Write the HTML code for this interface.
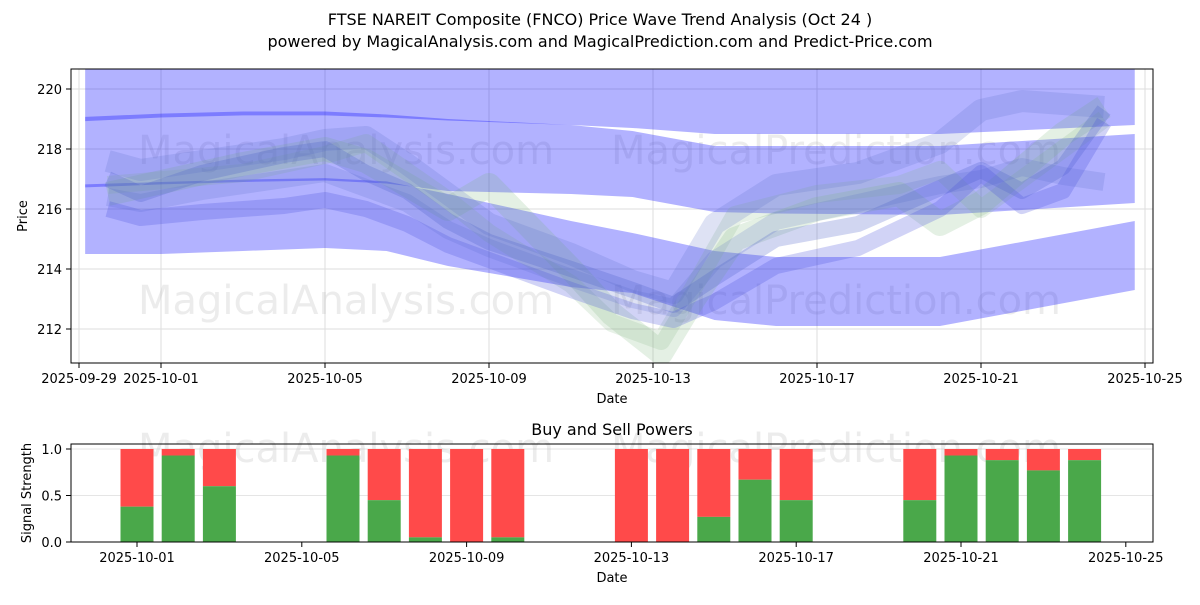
<!DOCTYPE html>
<html><head><meta charset="utf-8"><style>
body{margin:0;background:#fff;font-family:"Liberation Sans","DejaVu Sans",sans-serif}
svg text{font-family:"DejaVu Sans","Liberation Sans",sans-serif;fill:#000}
</style></head><body>
<svg id="c" width="1200" height="600" xmlns="http://www.w3.org/2000/svg">
<defs><clipPath id="cp"><rect x="71" y="69" width="1082" height="294"/></clipPath></defs>
<text x="600" y="25" text-anchor="middle" font-size="16">FTSE NAREIT Composite (FNCO) Price Wave Trend Analysis (Oct 24 )</text>
<text x="600" y="47" text-anchor="middle" font-size="16">powered by MagicalAnalysis.com and MagicalPrediction.com and Predict-Price.com</text>
<g id="topPlot" clip-path="url(#cp)"></g>
<g id="topAxes"></g>
<g id="bot"></g>
</svg>
<script>
const NS='http://www.w3.org/2000/svg';
// --- top chart data (days since 2025-09-29) ---
const bandDays=[0.15,2,4,6,7.5,9,12,13.5,15.5,17,21,25.75];
const bandAUpper=[222,222,222,222,222,222,222,222,222,222,222,222];
const bandALower=[218.93,219.05,219.12,219.12,219.05,218.95,218.8,218.7,218.5,218.5,218.5,218.8];
const bandBUpper=[219.07,219.18,219.25,219.25,219.15,219.0,218.8,218.6,218.1,218.1,218.1,218.5];
const bandBLower=[216.72,216.82,216.9,216.95,216.85,216.6,216.5,216.4,215.9,215.85,215.8,216.2];
const bandCUpper=[216.82,216.9,216.98,217.03,216.92,216.5,215.6,215.2,214.6,214.4,214.4,215.6];
const bandCLower=[214.5,214.5,214.6,214.7,214.6,214.1,213.4,213.2,212.3,212.1,212.1,213.3];
const waveDays=[0.7,1.5,3,5,6,7,8,9,10,12,13.5,14.5,15.5,17,19,21,22,23,24,25];
const waveMain=[217,216.5,217.2,217.8,218,217.2,216.6,215.6,214.9,214,213.3,212.8,213.7,215,215.5,216.7,217.3,216.6,217.4,219.3];
const waveLow=[216,215.7,215.9,216.1,216.3,216,215.5,214.8,214.3,213.3,212.6,212.3,212.9,214.1,214.7,216,217.2,216.1,216.6,218.9];
const waveHigh=[217.6,217.3,217.6,218,218.3,218.4,217.5,216.5,215.5,214.5,213.6,213.2,215.5,216.8,217.2,218.2,219.3,219.6,219.5,219.4];
const waveMid=[216.4,216.2,216.6,217,217.2,216.7,216.2,215.3,214.7,213.7,213,212.7,214.3,215.6,216.2,216.8,217,217.4,217.1,216.9];
const greenDays=[0.7,4,6,7,9,10,12,13,14.2,15,16,18,20,21,22,24,25];
const greenA=[216.5,217.5,218,217.6,216,216.8,214,212.5,211.2,213,215,216,216.5,215.5,216.2,218.5,219.4];
const greenB=[216.8,217.2,217.8,218.2,216.3,215.2,213.5,212.2,211.6,213.4,215.8,216.5,216.8,217.3,216,218,219];
const yTicks=[212,214,216,218,220];
const xTickDays=[0,2,6,10,14,18,22,26];
const xTickLabels=['2025-09-29','2025-10-01','2025-10-05','2025-10-09','2025-10-13','2025-10-17','2025-10-21','2025-10-25'];
// --- bottom chart data ---
const barDays=[2,3,4,7,8,9,10,11,14,15,16,17,18,21,22,23,24,25];
const buyPower=[0.38,0.93,0.6,0.93,0.45,0.05,0,0.05,0,0,0.27,0.67,0.45,0.45,0.93,0.88,0.77,0.88];
const bTickDays=[2,6,10,14,18,22,26];
const bTickLabels=['2025-10-01','2025-10-05','2025-10-09','2025-10-13','2025-10-17','2025-10-21','2025-10-25'];
const bYTicks=[0,0.5,1];

const x=d=>79+41*d, y=v=>89+(220-v)*30;
const xb=d=>137+41.2*(d-2), yb=v=>542-93*v;
function mk(tag,attrs,parent){const e=document.createElementNS(NS,tag);for(const k in attrs)e.setAttribute(k,attrs[k]);parent.appendChild(e);return e;}
const gTop=document.getElementById('topPlot'),gTa=document.getElementById('topAxes'),gBot=document.getElementById('bot');
mk('rect',{x:71,y:69,width:1082,height:294,fill:'#fff'},gTop);
yTicks.forEach(v=>{mk('line',{x1:71,x2:1153,y1:y(v),y2:y(v),stroke:'#ddd','stroke-width':1},gTop);});
xTickDays.forEach(d=>{mk('line',{x1:x(d),x2:x(d),y1:69,y2:363,stroke:'#ddd','stroke-width':1},gTop);});
[['MagicalAnalysis.com',346,150],['MagicalPrediction.com',836,150],['MagicalAnalysis.com',346,300],['MagicalPrediction.com',836,300]].forEach(w=>{
 const t=mk('text',{x:w[1],y:w[2]+14,'text-anchor':'middle','font-size':40,style:'fill:rgba(180,180,180,0.25)'},gTop);t.textContent=w[0];
 
 
});
function band(up,lo,name){
 let p=bandDays.map((d,i)=>x(d)+','+y(up[i])).join(' ')+' '+bandDays.map((d,i)=>x(d)+','+y(lo[i])).reverse().join(' ');
 const e=mk('polygon',{points:p,fill:'rgba(0,0,255,0.3)'},gTop);
 
 
}
band(bandAUpper,bandALower,'band-upper');band(bandBUpper,bandBLower,'band-middle');band(bandCUpper,bandCLower,'band-lower');
function wave(days,vals,col,w,name){
 const e=mk('polyline',{points:days.map((d,i)=>x(d)+','+y(vals[i])).join(' '),fill:'none',stroke:col,'stroke-width':w,'stroke-linejoin':'round','stroke-linecap':'butt'},gTop);
 
 
}
wave(greenDays,greenA,'rgba(120,180,120,0.2)',24,'wave-green-a');
wave(greenDays,greenB,'rgba(120,180,120,0.18)',18,'wave-green-b');
wave(waveDays,waveHigh,'rgba(90,110,200,0.2)',22,'wave-high');
wave(waveDays,waveMid,'rgba(90,110,200,0.2)',18,'wave-mid');
wave(waveDays,waveMain,'rgba(70,90,200,0.25)',16,'wave-main');
wave(waveDays,waveLow,'rgba(70,80,220,0.25)',16,'wave-low');
mk('rect',{x:71,y:69,width:1082,height:294,fill:'none',stroke:'#000','stroke-width':1},gTa);
yTicks.forEach(v=>{mk('line',{x1:66,x2:71,y1:y(v),y2:y(v),stroke:'#000'},gTa);const t=mk('text',{x:62,y:y(v)+5,'text-anchor':'end','font-size':13},gTa);t.textContent=v;
 });
xTickDays.forEach((d,i)=>{mk('line',{x1:x(d),x2:x(d),y1:363,y2:368,stroke:'#000'},gTa);const t=mk('text',{x:x(d),y:383,'text-anchor':'middle','font-size':13},gTa);t.textContent=xTickLabels[i];
 });
let t=mk('text',{x:612,y:403,'text-anchor':'middle','font-size':13},gTa);t.textContent='Date';

t=mk('text',{x:27,y:216,'text-anchor':'middle','font-size':13,transform:'rotate(-90 27 216)'},gTa);t.textContent='Price';

mk('rect',{x:71,y:444,width:1082,height:98,fill:'#fff'},gBot);
bYTicks.forEach(v=>mk('line',{x1:71,x2:1153,y1:yb(v),y2:yb(v),stroke:'#e5e5e5'},gBot));
[['MagicalAnalysis.com',346],['MagicalPrediction.com',836]].forEach(w=>{const e=mk('text',{x:w[1],y:462,'text-anchor':'middle','font-size':40,style:'fill:rgba(180,180,180,0.25)'},gBot);e.textContent=w[0];
 });
barDays.forEach((d,i)=>{
 const r=mk('rect',{x:xb(d)-16.5,y:yb(1),width:33,height:yb(buyPower[i])-yb(1),fill:'#ff4a4a'},gBot);
 
 const g=mk('rect',{x:xb(d)-16.5,y:yb(buyPower[i]),width:33,height:yb(0)-yb(buyPower[i]),fill:'#4aa84a'},gBot);
 
});
mk('rect',{x:71,y:444,width:1082,height:98,fill:'none',stroke:'#000'},gBot);
bYTicks.forEach(v=>{mk('line',{x1:66,x2:71,y1:yb(v),y2:yb(v),stroke:'#000'},gBot);const e=mk('text',{x:62,y:yb(v)+5,'text-anchor':'end','font-size':13},gBot);e.textContent=v.toFixed(1);
 });
bTickDays.forEach((d,i)=>{mk('line',{x1:xb(d),x2:xb(d),y1:542,y2:547,stroke:'#000'},gBot);const e=mk('text',{x:xb(d),y:562,'text-anchor':'middle','font-size':13},gBot);e.textContent=bTickLabels[i];
 });
t=mk('text',{x:612,y:435,'text-anchor':'middle','font-size':16},gBot);t.textContent='Buy and Sell Powers';

t=mk('text',{x:612,y:582,'text-anchor':'middle','font-size':13},gBot);t.textContent='Date';

t=mk('text',{x:31,y:493,'text-anchor':'middle','font-size':13,transform:'rotate(-90 31 493)'},gBot);t.textContent='Signal Strength';

</script>
</body></html>
